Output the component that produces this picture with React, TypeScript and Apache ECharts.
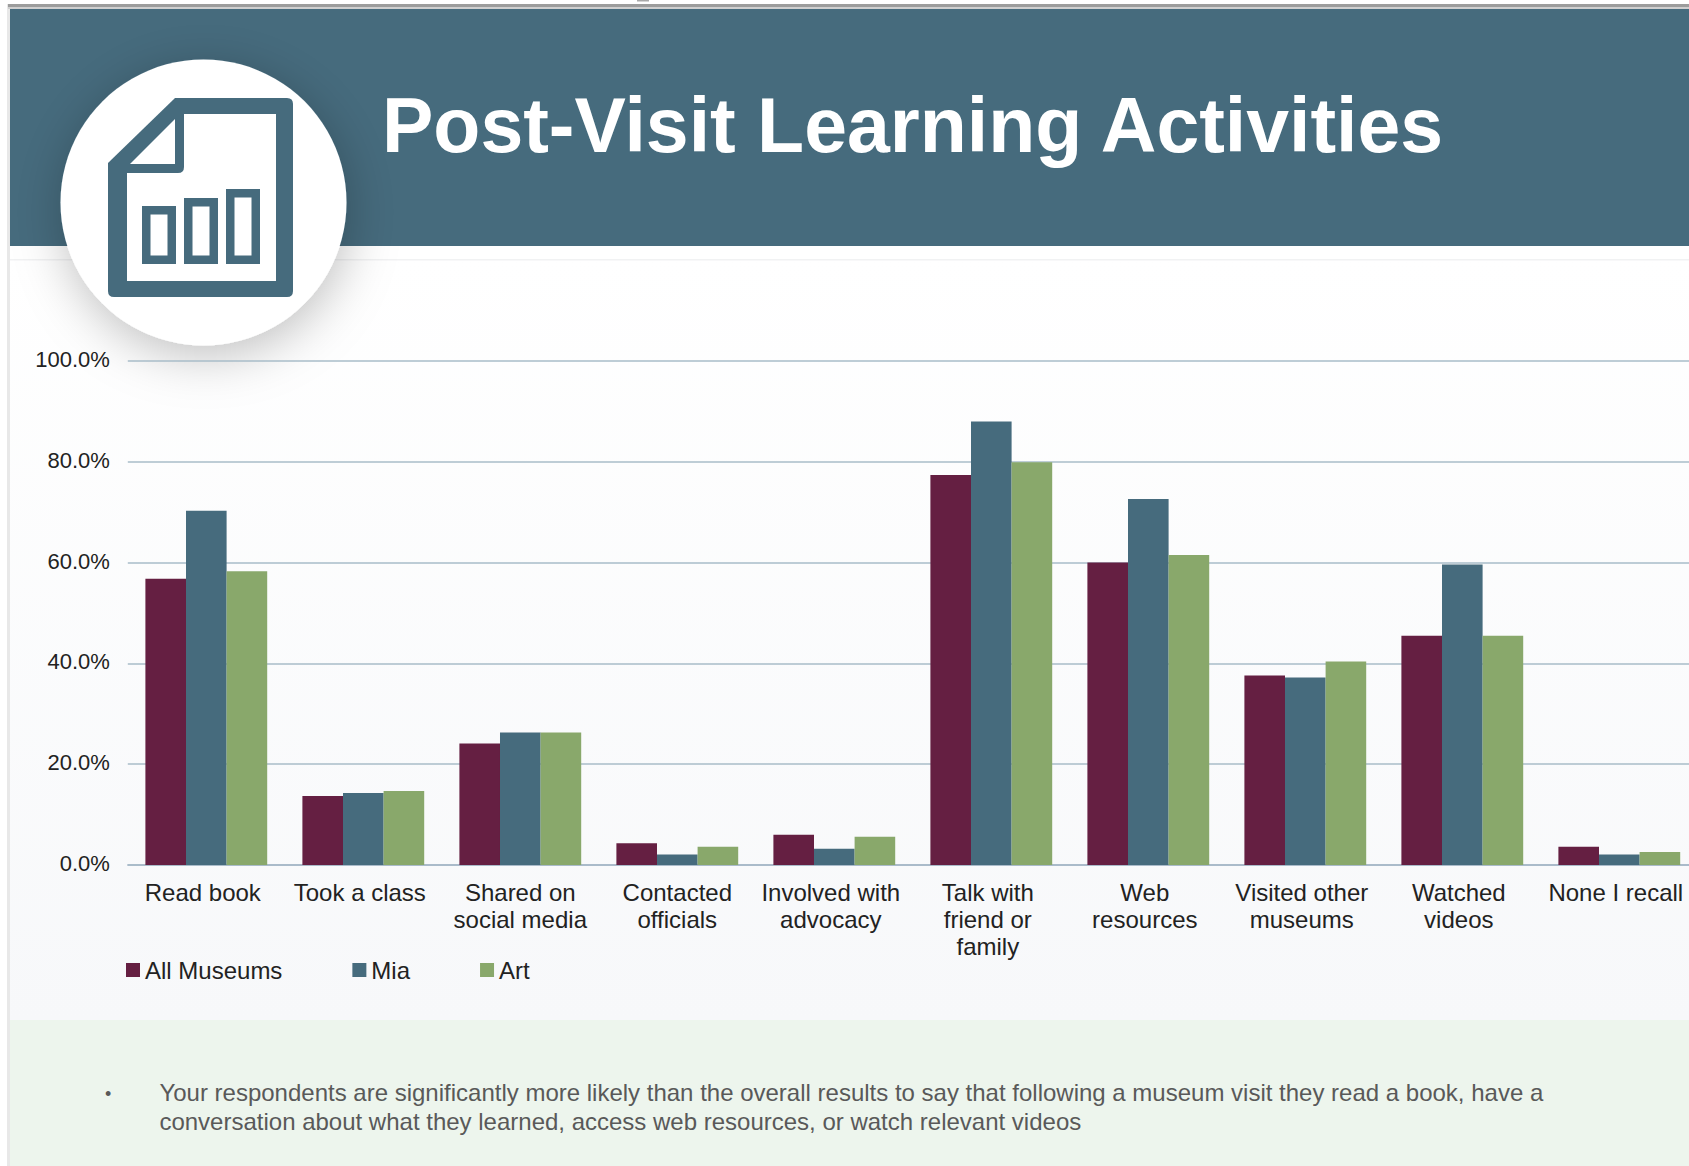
import React, { useEffect, useRef } from "react";
import * as echarts from "echarts";

const categories = [
  "Read book",
  "Took a class",
  "Shared on\nsocial media",
  "Contacted\nofficials",
  "Involved with\nadvocacy",
  "Talk with\nfriend or\nfamily",
  "Web\nresources",
  "Visited other\nmuseums",
  "Watched\nvideos",
  "None I recall",
];
const allMuseums = [56.8, 13.7, 24.1, 4.3, 6.0, 77.4, 60.0, 37.6, 45.5, 3.6];
const mia = [70.3, 14.3, 26.3, 2.1, 3.2, 88.0, 72.6, 37.2, 59.6, 2.1];
const art = [58.3, 14.7, 26.3, 3.6, 5.6, 79.9, 61.5, 40.4, 45.5, 2.6];

const titleText = "Post-Visit Learning Activities";
const noteLines = [
  "Your respondents are significantly more likely than the overall results to say that following a museum visit they read a book, have a",
  "conversation about what they learned, access web resources, or watch relevant videos",
];

const FONT = '"Liberation Sans", Arial, sans-serif';
const BLUE = "#466b7d";
const PLUM = "#651f42";
const GREEN = "#89a86b";

// Rounded document outline used for the report badge.
echarts.graphic.registerShape(
  "docOutline",
  echarts.graphic.extendPath(
    "M108 163 L175 98 L287 98 Q293 98 293 104 L293 291 Q293 297 287 297 L114 297 Q108 297 108 291 Z",
    {}
  )
);
echarts.graphic.registerShape(
  "docInner",
  echarts.graphic.extendPath(
    "M127 173 L178 173 Q184 173 184 167 L184 114 L276 114 L276 281 L127 281 Z",
    {}
  )
);

function rect(x: number, y: number, width: number, height: number, fill: any, z: number) {
  return { type: "rect", shape: { x, y, width, height }, style: { fill }, z, silent: true };
}

function badge(base: number) {
  const bars = [
    [142, 206, 34, 58],
    [184, 198, 34, 66],
    [226, 189, 34, 75],
  ];
  const elements: any[] = [
    {
      type: "circle",
      shape: { cx: 203.5, cy: 202.5, r: 143 },
      style: {
        fill: "#ffffff",
        shadowBlur: 50,
        shadowColor: "rgba(0,0,0,0.25)",
        shadowOffsetX: 2,
        shadowOffsetY: 10,
      },
      z: base,
      silent: true,
    },
    { type: "docOutline", style: { fill: BLUE }, z: base + 1, silent: true },
    { type: "docInner", style: { fill: "#ffffff" }, z: base + 2, silent: true },
    {
      type: "polygon",
      shape: { points: [[130, 164], [175, 119], [175, 164]] },
      style: { fill: "#ffffff" },
      z: base + 2,
      silent: true,
    },
  ];
  bars.forEach(([x, y, w, h]) => {
    elements.push(rect(x, y, w, h, BLUE, base + 3));
    elements.push(rect(x + 8.5, y + 8.5, w - 17, h - 17, "#ffffff", base + 4));
  });
  return elements;
}

export default function App() {
  const ref = useRef<HTMLDivElement>(null);

  useEffect(() => {
    document.body.style.margin = "0";
    const chart = echarts.init(ref.current!, undefined, { renderer: "svg" });
    const panelFill = new echarts.graphic.LinearGradient(0, 0, 0, 1, [
      { offset: 0, color: "#ffffff" },
      { offset: 1, color: "#f7f8fa" },
    ]);

    chart.setOption({
      animation: false,
      backgroundColor: "#ffffff",
      textStyle: { fontFamily: FONT },
      // The plot runs past the right edge of the page, so bounds clamping stays off.
      grid: { left: 127.8, top: 361, width: 1570, height: 504, containLabel: false, outerBoundsMode: "none" },
      legend: {
        left: 126,
        top: 958,
        padding: 0,
        icon: "rect",
        itemWidth: 14,
        itemHeight: 14,
        itemGap: 70,
        textStyle: { fontFamily: FONT, fontSize: 24, color: "#222222" },
        data: ["All Museums", "Mia", "Art"],
      },
      xAxis: {
        type: "category",
        // Labels sit slightly left of their groups, except the two multi-line ones in the early groups.
        data: categories.map((value, i) => ({
          value,
          textStyle: { padding: i === 2 || i === 3 ? 0 : [0, 7, 0, 0] },
        })),
        axisTick: { show: false },
        axisLine: { lineStyle: { color: "#a4b6c6", width: 1.5 } },
        axisLabel: {
          interval: 0,
          margin: 14,
          fontFamily: FONT,
          fontSize: 24,
          lineHeight: 27,
          color: "#222222",
          hideOverlap: false,
        },
      },
      yAxis: {
        type: "value",
        min: 0,
        max: 100,
        interval: 20,
        axisLine: { show: false },
        axisTick: { show: false },
        splitLine: { lineStyle: { color: "#a9bcc9", width: 1.5 } },
        axisLabel: {
          margin: 18,
          // A short line box anchored at its bottom lifts the labels a little off their gridlines.
          verticalAlign: "bottom",
          lineHeight: 3,
          fontFamily: FONT,
          fontSize: 22,
          color: "#222222",
          formatter: (v: number) => v.toFixed(1) + "%",
        },
      },
      series: [
        { name: "All Museums", type: "bar", data: allMuseums, barWidth: 40.6, barGap: 0, itemStyle: { color: PLUM } },
        { name: "Mia", type: "bar", data: mia, barWidth: 40.6, barGap: 0, itemStyle: { color: BLUE } },
        { name: "Art", type: "bar", data: art, barWidth: 40.6, barGap: 0, itemStyle: { color: GREEN } },
      ],
      graphic: {
        elements: [
          rect(8, 260, 1681, 760, panelFill, -40),
          rect(8, 1020, 1681, 146, "#edf5ed", -39),
          rect(7, 4, 3, 1162, "#e8e8e8", -38),
          rect(8, 4, 1681, 3, "#9c9c9c", -37),
          rect(8, 7, 1681, 2, "#cfcfcf", -37),
          rect(637, 0, 12, 1.5, "#a8a8a8", -37),
          rect(10, 9, 1679, 237, BLUE, -36),
          rect(10, 259, 1679, 1.5, "#f1f2f3", -36),
          ...badge(-30),
          {
            type: "text",
            x: 382,
            y: 125,
            style: {
              text: titleText,
              fill: "#ffffff",
              font: `bold 77px ${FONT}`,
              textVerticalAlign: "middle",
            },
            z: -20,
            silent: true,
          },
          {
            type: "text",
            x: 105,
            y: 1094,
            style: { text: "•", fill: "#595959", font: `18px ${FONT}`, textVerticalAlign: "middle" },
            z: -20,
            silent: true,
          },
          ...noteLines.map((line, i) => ({
            type: "text",
            x: 159.4,
            y: 1092 + i * 29,
            style: { text: line, fill: "#595959", font: `24px ${FONT}`, textVerticalAlign: "middle" },
            z: -20,
            silent: true,
          })),
        ],
      },
    });
    return () => chart.dispose();
  }, []);

  return <div ref={ref} style={{ position: "absolute", left: 0, top: 0, width: 1689, height: 1166 }} />;
}
